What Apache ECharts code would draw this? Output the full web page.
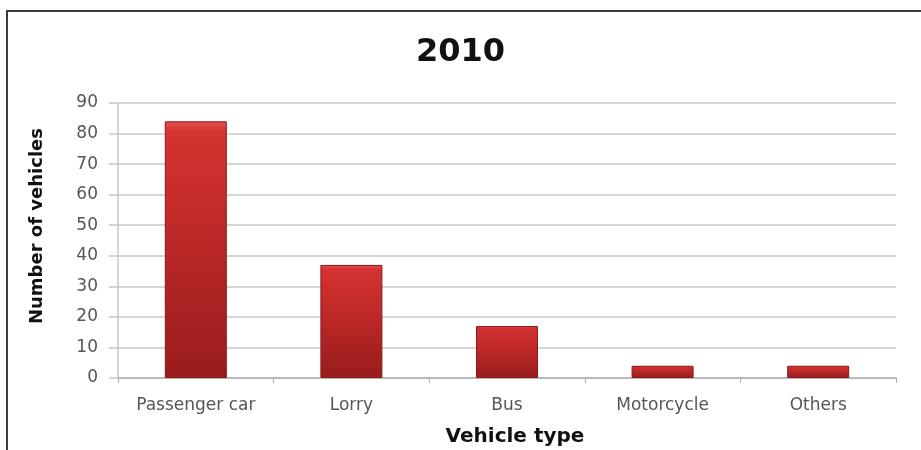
<!DOCTYPE html>
<html>
<head>
<meta charset="utf-8">
<style>
  html, body { margin: 0; padding: 0; background: #fff; }
  #chart { width: 921px; height: 450px; }
</style>
<script src="https://cdn.jsdelivr.net/npm/echarts@6/dist/echarts.min.js"></script>
</head>
<body>
<div id="chart"></div>
<script>
// Vehicle counts for 2010
const categories = ['Passenger car', 'Lorry', 'Bus', 'Motorcycle', 'Others'];
const vehicleCounts = [84, 37, 17, 4, 4];
const yTicks = [0, 10, 20, 30, 40, 50, 60, 70, 80, 90];

const chart = echarts.init(document.getElementById('chart'));

const barFill = new echarts.graphic.LinearGradient(0, 0, 0, 1, [
  { offset: 0, color: '#e8514c' },
  { offset: 0.04, color: '#d43331' },
  { offset: 0.5, color: '#ba2727' },
  { offset: 1, color: '#981c1c' }
]);

const FONT = 'DejaVu Sans';

chart.setOption({
  animation: false,
  backgroundColor: '#ffffff',
  title: {
    text: '2010',
    left: 'center',
    top: 32,
    textStyle: {
      fontFamily: FONT,
      fontWeight: 'bold',
      fontSize: 32,
      color: '#111'
    }
  },
  graphic: [
    {
      type: 'rect',
      shape: { x: 7, y: 11, width: 940, height: 460 },
      style: { fill: 'none', stroke: '#3c3c3c', lineWidth: 2 },
      silent: true
    },
    {
      type: 'text',
      x: 37,
      y: 226,
      rotation: Math.PI / 2,
      style: {
        text: 'Number of vehicles',
        font: 'bold 18px "DejaVu Sans"',
        fill: '#111',
        align: 'center',
        verticalAlign: 'middle'
      },
      silent: true
    },
    {
      type: 'text',
      x: 515,
      y: 437,
      style: {
        text: 'Vehicle type',
        font: 'bold 20px "DejaVu Sans"',
        fill: '#111',
        align: 'center',
        verticalAlign: 'middle'
      },
      silent: true
    }
  ],
  grid: { left: 118, right: 25, top: 103, bottom: 72 },
  xAxis: {
    type: 'category',
    data: categories,
    axisLine: { lineStyle: { color: '#b0b0b0', width: 1.5 } },
    axisTick: { show: true, alignWithLabel: false, length: 5, lineStyle: { color: '#b0b0b0' } },
    axisLabel: {
      margin: 19,
      fontFamily: FONT,
      fontSize: 17,
      color: '#555'
    }
  },
  yAxis: {
    type: 'value',
    min: yTicks[0],
    max: yTicks[yTicks.length - 1],
    interval: 10,
    axisLine: { show: true, lineStyle: { color: '#c8c8c8', width: 1.5 } },
    axisTick: { show: true, length: 9, lineStyle: { color: '#c8c8c8', width: 1.5 } },
    axisLabel: {
      margin: 20,
      fontFamily: FONT,
      fontSize: 17,
      color: '#555'
    },
    splitLine: { lineStyle: { color: '#c8c8c8', width: 1.5 } }
  },
  series: [{
    type: 'bar',
    data: vehicleCounts,
    barWidth: 62,
    itemStyle: {
      color: barFill,
      borderColor: '#8a1818',
      borderWidth: 1
    }
  }]
});
</script>
</body>
</html>
